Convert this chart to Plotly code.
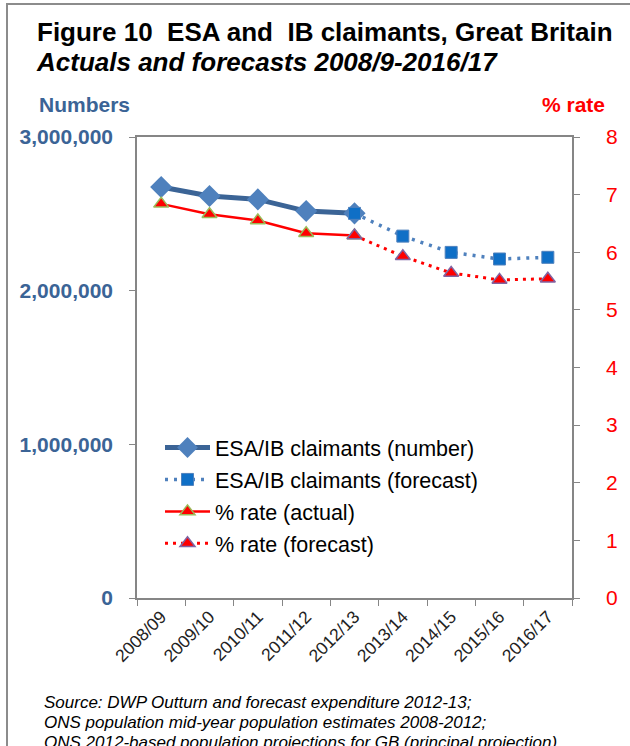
import plotly.graph_objects as go

# データ
years = ["2008/09", "2009/10", "2010/11", "2011/12", "2012/13",
         "2013/14", "2014/15", "2015/16", "2016/17"]
actual_years = years[:5]
forecast_years = years[4:]

claimants_actual = [2675000, 2616000, 2594000, 2518000, 2503000]
claimants_forecast = [2503000, 2355000, 2249000, 2206000, 2217000]
rate_actual = [6.84, 6.66, 6.55, 6.33, 6.29]
rate_forecast = [6.29, 5.93, 5.64, 5.52, 5.54]

FONT = "Liberation Sans, Arial, sans-serif"
NAVY = "#3B6496"
BLUE = "#4F81BD"
RED = "#FF0000"
GRAY = "#868686"

# プロット領域（ピクセル）
L, R, T, B = 137, 572, 137, 598
W, H = 630, 746


def px_x(x):
    return (x - L) / (R - L)


def px_y(y):
    return (B - y) / (B - T)


fig = go.Figure()

fig.add_trace(go.Scatter(
    x=actual_years, y=claimants_actual, name="ESA/IB claimants (number)",
    mode="lines+markers", legendgroup="a",
    line=dict(color=NAVY, width=5),
    marker=dict(symbol="diamond", size=17, color=BLUE, line=dict(width=0)),
))
fig.add_trace(go.Scatter(
    x=forecast_years, y=claimants_forecast, name="ESA/IB claimants (forecast)",
    mode="lines+markers", legendgroup="b",
    line=dict(color=BLUE, width=3.5, dash="3px,6px"),
    marker=dict(symbol="square", size=12, color="#0F6FC6",
                line=dict(color=BLUE, width=1)),
))
fig.add_trace(go.Scatter(
    x=actual_years, y=rate_actual, name="% rate (actual)", yaxis="y2",
    mode="lines+markers", legendgroup="c",
    line=dict(color=RED, width=2.5),
    marker=dict(symbol="triangle-up", size=13, color=RED,
                line=dict(color="#9BBB59", width=1.5)),
))
fig.add_trace(go.Scatter(
    x=forecast_years, y=rate_forecast, name="% rate (forecast)", yaxis="y2",
    mode="lines+markers", legendgroup="d",
    line=dict(color=RED, width=3, dash="3px,5px"),
    marker=dict(symbol="triangle-up", size=13, color=RED,
                line=dict(color="#8064A2", width=1.5)),
))

# タイトル・軸見出し・出典
annotations = [
    dict(x=px_x(35), y=px_y(32), text="<b>Figure 10  ESA and  IB claimants, Great Britain</b>",
         font=dict(size=26, color="black")),
    dict(x=px_x(34), y=px_y(62), text="<b><i>Actuals and forecasts 2008/9-2016/17</i></b>",
         font=dict(size=26, color="black")),
    dict(x=px_x(37), y=px_y(105), text="<b>Numbers</b>",
         font=dict(size=21, color=NAVY)),
    dict(x=px_x(540), y=px_y(105), text="<b>% rate</b>",
         font=dict(size=21, color=RED)),
    dict(x=px_x(42), y=px_y(702), text="<i>Source: DWP Outturn and forecast expenditure 2012-13;</i>",
         font=dict(size=17, color="black")),
    dict(x=px_x(42), y=px_y(722), text="<i>ONS population mid-year population estimates 2008-2012;</i>",
         font=dict(size=17, color="black")),
    dict(x=px_x(42), y=px_y(742), text="<i>ONS 2012-based population projections for GB (principal projection).</i>",
         font=dict(size=17, color="black")),
]
for a in annotations:
    a.update(xref="paper", yref="paper", xanchor="left", yanchor="middle",
             showarrow=False)

fig.update_layout(
    width=W, height=H,
    margin=dict(l=L, r=W - R, t=T, b=H - B, pad=0),
    paper_bgcolor="white", plot_bgcolor="white",
    font=dict(family=FONT, color="black"),
    annotations=annotations,
    shapes=[dict(type="rect", xref="paper", yref="paper",
                 x0=px_x(7), x1=px_x(700), y0=px_y(800), y1=px_y(4),
                 line=dict(color="#8C8C8C", width=2), layer="below")],
    xaxis=dict(
        type="category", range=[-0.5, 8.5], tickangle=-45,
        tickson="boundaries", ticks="outside", ticklen=6, tickcolor=GRAY,
        showline=True, linecolor=GRAY, linewidth=1.5, mirror=True,
        showgrid=False, tickfont=dict(size=17.5, color="#222"),
    ),
    yaxis=dict(
        range=[0, 3000000], dtick=1000000, tickformat=",",
        ticks="outside", ticklen=6, tickcolor=GRAY,
        showline=True, linecolor=GRAY, linewidth=1.5,
        showgrid=False, zeroline=False,
        tickfont=dict(size=21, color=NAVY, weight="bold"),
        ticklabelstandoff=12,
    ),
    yaxis2=dict(
        range=[0, 8], dtick=1, overlaying="y", side="right",
        ticks="outside", ticklen=6, tickcolor=GRAY,
        showline=True, linecolor=GRAY, linewidth=1.5,
        showgrid=False, zeroline=False,
        tickfont=dict(size=21, color=RED),
        ticklabelstandoff=22,
    ),
    legend=dict(
        x=px_x(160), y=px_y(427), xanchor="left", yanchor="top",
        bgcolor="rgba(0,0,0,0)", font=dict(size=21.5, color="black"),
        traceorder="grouped", tracegroupgap=1, itemwidth=45,
    ),
)

# ページ余白をなくす
fig.write_html("out.html", config={"displayModeBar": False},
               post_script="document.body.style.margin='0';")
